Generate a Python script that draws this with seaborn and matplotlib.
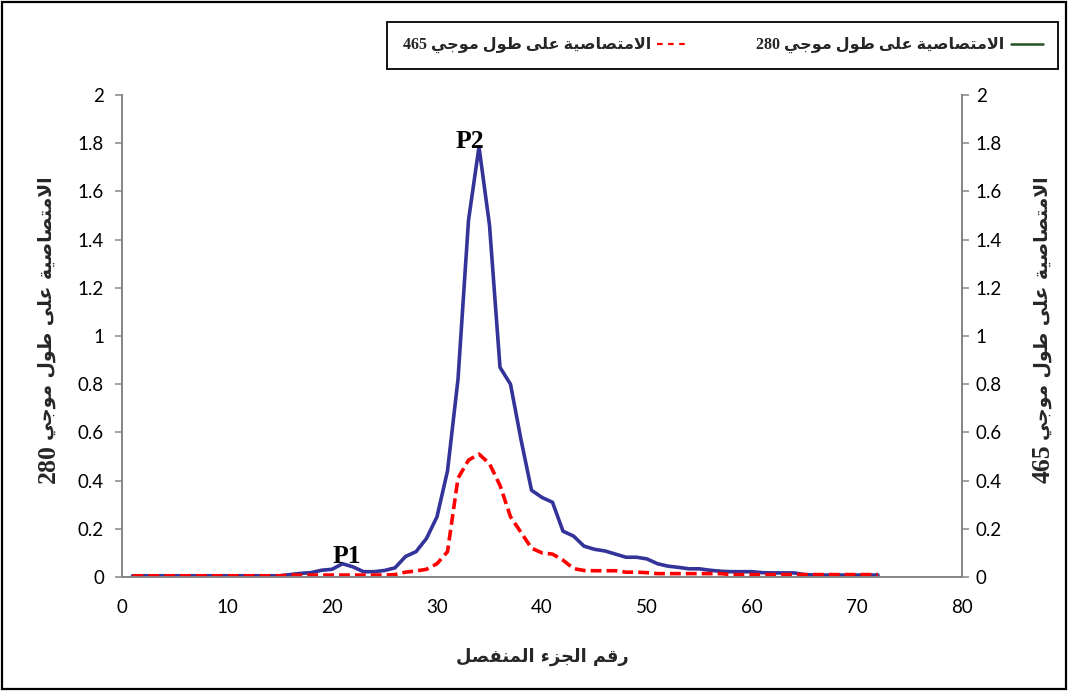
import numpy as np
import matplotlib
matplotlib.use("Agg")
import matplotlib.pyplot as plt
import seaborn as sns
from matplotlib.lines import Line2D
from matplotlib.patches import Rectangle

# ---------------- data ----------------
fraction = list(range(1, 73))
abs280 = [0.005] * 15 + [
    0.010, 0.015, 0.018, 0.028, 0.032, 0.055, 0.042, 0.022, 0.022, 0.027,   # 16-25
    0.038, 0.085, 0.105, 0.160, 0.250, 0.440, 0.820, 1.480, 1.785, 1.460,   # 26-35
    0.870, 0.800, 0.570, 0.360, 0.330, 0.310, 0.190, 0.170, 0.128, 0.115,   # 36-45
    0.108, 0.095, 0.082, 0.082, 0.075, 0.055, 0.045, 0.040, 0.034, 0.034,   # 46-55
    0.028, 0.024, 0.022, 0.022, 0.022, 0.018, 0.017, 0.017, 0.017, 0.010,   # 56-65
    0.008, 0.008, 0.008, 0.008, 0.008, 0.008, 0.008]                        # 66-72
abs465 = [0.005] * 15 + [
    0.008, 0.008, 0.008, 0.008, 0.008, 0.008, 0.008, 0.008, 0.008, 0.008,   # 16-25
    0.010, 0.020, 0.025, 0.032, 0.055, 0.105, 0.410, 0.485, 0.510, 0.470,   # 26-35
    0.380, 0.250, 0.185, 0.120, 0.100, 0.095, 0.070, 0.035, 0.027, 0.026,   # 36-45
    0.026, 0.026, 0.020, 0.020, 0.018, 0.014, 0.014, 0.014, 0.014, 0.014,   # 46-55
    0.014, 0.014, 0.010, 0.010, 0.010, 0.010, 0.010, 0.010, 0.010, 0.010,   # 56-65
    0.010, 0.010, 0.010, 0.010, 0.010, 0.010, 0.010]                        # 66-72
x_ticks = [0, 10, 20, 30, 40, 50, 60, 70, 80]
y_ticks = [0, 0.2, 0.4, 0.6, 0.8, 1, 1.2, 1.4, 1.6, 1.8, 2]
y_ticklabels = ["0", "0.2", "0.4", "0.6", "0.8", "1", "1.2", "1.4", "1.6", "1.8", "2"]
label_280 = "الامتصاصية على طول موجي 280"
label_465 = "الامتصاصية على طول موجي 465"
axis_word = "الامتصاصية على طول موجي"
wavelengths = ["280", "465"]
x_label = "رقم الجزء المنفصل"
peak_names = ["P1", "P2"]
peak_pos = [(21.4, 0.036), (33.1, 1.76)]

# ------------- Arabic shaping (visual order for matplotlib) -------------
FORMS = {
    'ء': ('\uFE80', None, None, None),
    'ا': ('\uFE8D', '\uFE8E', None, None),
    'ة': ('\uFE93', '\uFE94', None, None),
    'ت': ('\uFE95', '\uFE96', '\uFE97', '\uFE98'),
    'ج': ('\uFE9D', '\uFE9E', '\uFE9F', '\uFEA0'),
    'ر': ('\uFEAD', '\uFEAE', None, None),
    'ز': ('\uFEAF', '\uFEB0', None, None),
    'ص': ('\uFEB9', '\uFEBA', '\uFEBB', '\uFEBC'),
    'ط': ('\uFEC1', '\uFEC2', '\uFEC3', '\uFEC4'),
    'ع': ('\uFEC9', '\uFECA', '\uFECB', '\uFECC'),
    'ف': ('\uFED1', '\uFED2', '\uFED3', '\uFED4'),
    'ق': ('\uFED5', '\uFED6', '\uFED7', '\uFED8'),
    'ل': ('\uFEDD', '\uFEDE', '\uFEDF', '\uFEE0'),
    'م': ('\uFEE1', '\uFEE2', '\uFEE3', '\uFEE4'),
    'ن': ('\uFEE5', '\uFEE6', '\uFEE7', '\uFEE8'),
    'و': ('\uFEED', '\uFEEE', None, None),
    'ى': ('\uFEEF', '\uFEF0', None, None),
    'ي': ('\uFEF1', '\uFEF2', '\uFEF3', '\uFEF4'),
    'لا': ('\uFEFB', '\uFEFC', None, None),
}


def shape_word(w):
    toks = []
    i = 0
    while i < len(w):
        if w[i] == 'ل' and i + 1 < len(w) and w[i + 1] == 'ا':
            toks.append('لا')
            i += 2
        else:
            toks.append(w[i])
            i += 1
    out = []
    for k, t in enumerate(toks):
        f = FORMS.get(t)
        if f is None:
            out.append(t)
            continue
        pf = FORMS.get(toks[k - 1]) if k > 0 else None
        nf = FORMS.get(toks[k + 1]) if k + 1 < len(toks) else None
        jp = pf is not None and pf[2] is not None and f[1] is not None
        jn = nf is not None and f[2] is not None and nf[1] is not None
        if jp and jn:
            out.append(f[3])
        elif jp:
            out.append(f[1])
        elif jn:
            out.append(f[2])
        else:
            out.append(f[0])
    return out


def ar(text):
    parts = []
    for w in text.split(' '):
        if w.isdigit():
            parts.append(w)
        else:
            parts.append(''.join(reversed(shape_word(w))))
    return ' '.join(reversed(parts))


# ---------------- figure ----------------
sns.set_theme(style="white")
plt.rcParams['font.family'] = ['Lato', 'DejaVu Sans']

W, H = 1068, 691
fig = plt.figure(figsize=(10.68, 6.91), dpi=100)
ax = fig.add_axes([122 / W, 1 - 577 / H, (962 - 122) / W, (577 - 95) / H])
ax2 = ax.twinx()

navy = '#333399'
red = '#FF0000'
gray = '#868686'

sns.lineplot(x=fraction, y=abs280, ax=ax, color=navy, linewidth=2.6)
sns.lineplot(x=fraction, y=abs465, ax=ax2, color=red, linewidth=2.6,
             linestyle=(0, (3.0, 1.4)))

for a in (ax, ax2):
    a.set_xlim(0, 80)
    a.set_ylim(0, 2)
    a.set_yticks(y_ticks)
    a.set_yticklabels(y_ticklabels)
    a.set_ylabel('')
    a.set_xlabel('')
    a.grid(False)
    a.spines['top'].set_visible(False)
    for s in ('left', 'right', 'bottom'):
        a.spines[s].set_color(gray)
        a.spines[s].set_linewidth(1.3)
    a.tick_params(axis='both', colors=gray, labelcolor='black', labelsize=13.5,
                  length=5, width=1.1, direction='out')
ax.set_xticks(x_ticks)
ax.set_xticklabels([str(t) for t in x_ticks])
ax.tick_params(axis='x', pad=11)
ax.tick_params(axis='y', pad=8, left=True)
ax2.tick_params(axis='y', pad=5, right=True)
ax.patch.set_alpha(0)

serif_ar = ['Liberation Serif', 'DejaVu Sans']
for name, (px, py) in zip(peak_names, peak_pos):
    ax.text(px, py, name, ha='center', va='bottom', fontsize=18.5, fontweight='bold',
            family='Liberation Serif', color='black')

# axis titles: Arabic words plus the wavelength number below them (rotated)
for xc, num in zip([47, 1042], wavelengths):
    fig.text(xc / W, 1 - 308 / H, ar(axis_word), rotation=90, ha='center', va='center',
             fontsize=13.5, fontweight='bold', family='DejaVu Sans')
    fig.text((xc + 1) / W, 1 - 464 / H, num, rotation=90, ha='center', va='center',
             fontsize=18.5, fontweight='bold', family='Liberation Serif')

fig.text(542 / W, 1 - 657 / H, ar(x_label), ha='center', va='center',
         fontsize=12.8, fontweight='bold', family='DejaVu Sans')

h465 = Line2D([], [], color=red, linewidth=1.6, linestyle=(0, (2.5, 2.5)))
h280 = Line2D([], [], color='#245224', linewidth=1.8)
leg = fig.legend(handles=[h465, h280], labels=[ar(label_465), ar(label_280)],
                 ncol=2, markerfirst=False, loc='upper right',
                 bbox_to_anchor=(1058 / W, 1 - 22 / H),
                 prop={'family': serif_ar, 'weight': 'bold', 'size': 11.5},
                 frameon=True, fancybox=False, framealpha=1, edgecolor='black',
                 handlelength=2.0, handletextpad=0.4, columnspacing=4.2,
                 borderpad=0.95, borderaxespad=0)
leg.get_frame().set_linewidth(1.3)

fig.patches.append(Rectangle((0.002, 0.003), 0.996, 0.994, transform=fig.transFigure,
                             fill=False, edgecolor='black', linewidth=1.6))

fig.savefig('out.png', dpi=100)
